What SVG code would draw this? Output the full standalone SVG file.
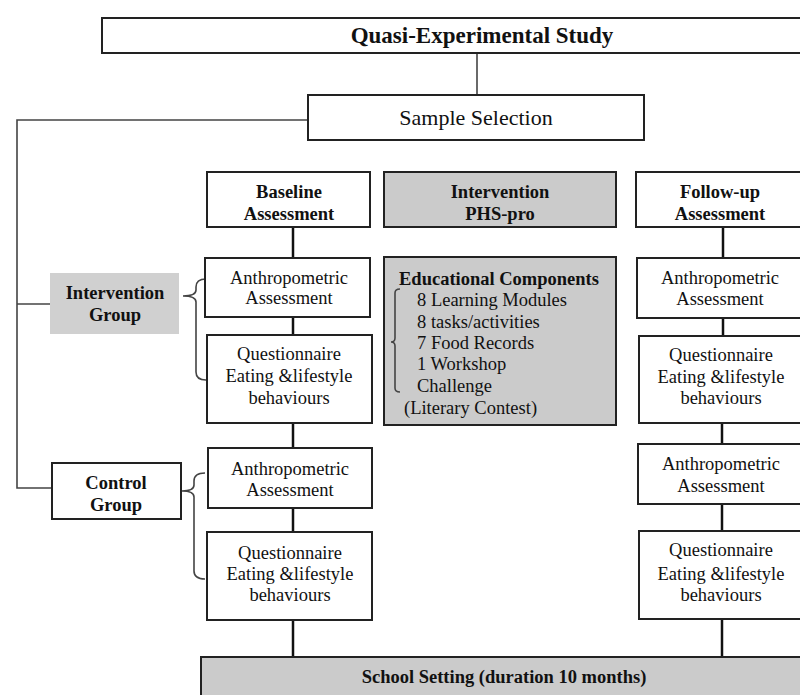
<svg xmlns="http://www.w3.org/2000/svg" width="800" height="695" viewBox="0 0 800 695">
<style>
.box{fill:#fff;stroke:#222;stroke-width:2}
.gbox{fill:#cbcbcb;stroke:#222;stroke-width:2}
.gnb{fill:#d0d0d0;stroke:none}
.t{font-family:"Liberation Serif","Times New Roman",serif;font-size:18.5px;fill:#111;text-anchor:middle}
.b{font-weight:bold}
.l{text-anchor:start}
.conn{stroke:#111;stroke-width:2.5;fill:none}
.thin{stroke:#444;stroke-width:1.6;fill:none}
</style>
<rect width="800" height="695" fill="#fff"/>
<g id="connectors">
<line class="thin" x1="477" y1="53" x2="477" y2="95"/>
<polyline class="thin" points="308,120 17,120 17,488 52,488"/>
<line class="thin" x1="17" y1="304" x2="50" y2="304"/>
<line class="conn" x1="293" y1="227" x2="293" y2="258"/>
<line class="conn" x1="293" y1="317" x2="293" y2="335"/>
<line class="conn" x1="293" y1="423" x2="293" y2="448"/>
<line class="conn" x1="293" y1="508" x2="293" y2="532"/>
<line class="conn" x1="293" y1="620" x2="293" y2="657"/>
<line class="conn" x1="723" y1="227" x2="723" y2="258"/>
<line class="conn" x1="723" y1="318" x2="723" y2="336"/>
<line class="conn" x1="722" y1="423" x2="722" y2="444"/>
<line class="conn" x1="722" y1="504" x2="722" y2="531"/>
<line class="conn" x1="722" y1="619" x2="722" y2="657"/>
<path class="thin" d="M206,279 Q196,279 196,287 L196,290 Q196,296 183,296 Q196,296 196,302 L196,372 Q196,380 206,380"/>
<path class="thin" d="M205,473 Q194,473 194,481 L194,485 Q194,491 182,491 Q194,491 194,497 L194,571 Q194,579 205,579"/>
</g>
<g id="study">
<rect class="box" x="102" y="18" width="710" height="35"/>
<text class="t b" x="482" y="43" style="font-size:23px">Quasi-Experimental Study</text>
</g>
<g id="sample">
<rect class="box" x="308" y="95" width="336" height="45"/>
<text class="t" x="476" y="124.5" style="font-size:22px">Sample Selection</text>
</g>
<g id="baseline">
<rect class="box" x="207" y="172" width="163" height="55"/>
<text class="t b" x="289" y="197.5">Baseline</text>
<text class="t b" x="289" y="219.5">Assessment</text>
</g>
<g id="intervention">
<rect class="gbox" x="384" y="172" width="232" height="55"/>
<text class="t b" x="500" y="198">Intervention</text>
<text class="t b" x="500" y="219.5">PHS-pro</text>
</g>
<g id="followup">
<rect class="box" x="636" y="172" width="180" height="55"/>
<text class="t b" x="720" y="198">Follow-up</text>
<text class="t b" x="720" y="219.5">Assessment</text>
</g>
<g id="ig-group">
<rect class="gnb" x="50" y="273" width="129" height="61"/>
<text class="t b" x="115" y="298.5">Intervention</text>
<text class="t b" x="115" y="320.5">Group</text>
</g>
<g id="ig-anthro-base">
<rect class="box" x="205" y="258" width="165" height="59"/>
<text class="t" x="289" y="283.5">Anthropometric</text>
<text class="t" x="289" y="303.5">Assessment</text>
</g>
<g id="ig-quest-base">
<rect class="box" x="207" y="335" width="165" height="88"/>
<text class="t" x="289" y="359.5">Questionnaire</text>
<text class="t" x="289" y="382">Eating &amp;lifestyle</text>
<text class="t" x="289" y="403.5">behaviours</text>
</g>
<g id="educational">
<rect class="gbox" x="384" y="257" width="232" height="168"/>
<text class="t b l" x="399" y="284.5">Educational Components</text>
<path class="thin" d="M400,289 Q395,289 395,293 L395,338 Q395,342 391,342 Q395,342 395,346 L395,388 Q395,392 400,392"/>
<text class="t l" x="417" y="305.5">8 Learning Modules</text>
<text class="t l" x="417" y="327.5">8 tasks/activities</text>
<text class="t l" x="417" y="348.5">7 Food Records</text>
<text class="t l" x="417" y="369.5">1 Workshop</text>
<text class="t l" x="417" y="391.5">Challenge</text>
<text class="t l" x="404" y="413.5">(Literary Contest)</text>
</g>
<g id="ig-anthro-fu">
<rect class="box" x="637" y="258" width="180" height="60"/>
<text class="t" x="720" y="283.5">Anthropometric</text>
<text class="t" x="720" y="304.5">Assessment</text>
</g>
<g id="ig-quest-fu">
<rect class="box" x="639" y="336" width="180" height="87"/>
<text class="t" x="721" y="361">Questionnaire</text>
<text class="t" x="721" y="382.5">Eating &amp;lifestyle</text>
<text class="t" x="721" y="403.5">behaviours</text>
</g>
<g id="cg-group">
<rect class="box" x="52" y="463" width="129" height="56"/>
<text class="t b" x="116" y="488.5">Control</text>
<text class="t b" x="116" y="510.5">Group</text>
</g>
<g id="cg-anthro-base">
<rect class="box" x="208" y="448" width="164" height="60"/>
<text class="t" x="290" y="474.5">Anthropometric</text>
<text class="t" x="290" y="495.5">Assessment</text>
</g>
<g id="cg-quest-base">
<rect class="box" x="207" y="532" width="165" height="88"/>
<text class="t" x="290" y="558.5">Questionnaire</text>
<text class="t" x="290" y="579.5">Eating &amp;lifestyle</text>
<text class="t" x="290" y="600.5">behaviours</text>
</g>
<g id="cg-anthro-fu">
<rect class="box" x="638" y="444" width="180" height="60"/>
<text class="t" x="721" y="469.5">Anthropometric</text>
<text class="t" x="721" y="491.5">Assessment</text>
</g>
<g id="cg-quest-fu">
<rect class="box" x="639" y="531" width="180" height="88"/>
<text class="t" x="721" y="555.5">Questionnaire</text>
<text class="t" x="721" y="579.5">Eating &amp;lifestyle</text>
<text class="t" x="721" y="600.5">behaviours</text>
</g>
<g id="school">
<rect class="gbox" x="201" y="657" width="620" height="50"/>
<text class="t b" x="504" y="682.5">School Setting (duration 10 months)</text>
</g>
</svg>
